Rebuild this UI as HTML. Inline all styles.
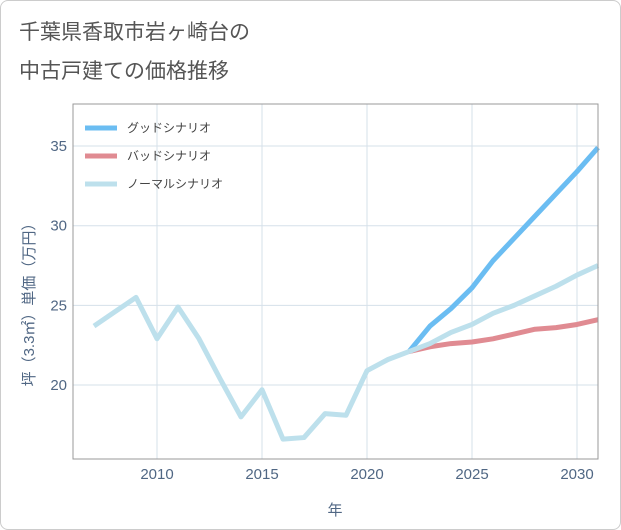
<!DOCTYPE html>
<html><head><meta charset="utf-8"><style>
body{margin:0;background:#fff;font-family:"Liberation Sans","Noto Sans CJK JP",sans-serif}
#wrap{position:relative;width:619px;height:528px;border:1px solid #ccc;border-radius:8px;overflow:hidden}
</style></head><body>
<div id="wrap">
<svg id="c" width="619" height="528" xmlns="http://www.w3.org/2000/svg">
<text x="18" y="38" font-size="21" fill="#555">千葉県香取市岩ヶ崎台の</text>
<text x="18" y="77" font-size="21" fill="#555">中古戸建ての価格推移</text>
<g id="grid"></g><g id="series"></g>
<rect x="72" y="103" width="525" height="355" fill="none" stroke="#999" stroke-width="1"/>
<text x="334" y="514" font-size="15" fill="#506784" text-anchor="middle">年</text>
<text transform="translate(33,300) rotate(-90)" font-size="15" fill="#506784" text-anchor="middle">坪（3.3㎡）単価（万円）</text>
<g>
<line x1="84" y1="127" x2="116" y2="127" stroke="#6bbdf2" stroke-width="5"/>
<text x="126" y="131" font-size="12" fill="#444">グッドシナリオ</text>
<line x1="84" y1="155" x2="116" y2="155" stroke="#e08b92" stroke-width="5"/>
<text x="126" y="159" font-size="12" fill="#444">バッドシナリオ</text>
<line x1="84" y1="183" x2="116" y2="183" stroke="#bde0ec" stroke-width="5"/>
<text x="126" y="187" font-size="12" fill="#444">ノーマルシナリオ</text>
</g>
</svg>
</div>
<script>
const histYears=[2007,2008,2009,2010,2011,2012,2013,2014,2015,2016,2017,2018,2019,2020,2021,2022];
const histValues=[23.7,24.6,25.5,22.9,24.9,22.9,20.4,18.0,19.7,16.6,16.7,18.2,18.1,20.9,21.6,22.1];
const futYears=[2022,2023,2024,2025,2026,2027,2028,2029,2030,2031];
const goodValues=[22.1,23.7,24.8,26.1,27.8,29.2,30.6,32.0,33.4,34.9];
const badValues=[22.1,22.4,22.6,22.7,22.9,23.2,23.5,23.6,23.8,24.1];
const normalValues=[22.1,22.6,23.3,23.8,24.5,25.0,25.6,26.2,26.9,27.5];
const xTicks=[2010,2015,2020,2025,2030];
const yTicks=[20,25,30,35];
const NS="http://www.w3.org/2000/svg";
const X=y=>72+(y-2006)*21;
const Y=v=>384-(v-20)*15.93;
const grid=document.getElementById('grid'),ser=document.getElementById('series');
function mk(t,a,p){const e=document.createElementNS(NS,t);for(const k in a)e.setAttribute(k,a[k]);p.appendChild(e);return e;}
xTicks.forEach(t=>{
const l=mk('line',{x1:X(t),x2:X(t),y1:103,y2:458,stroke:'#d5e0ea'},grid);


const tx=mk('text',{x:X(t),y:478,'font-size':15,fill:'#506784','text-anchor':'middle'},grid);tx.textContent=t;


});
yTicks.forEach(t=>{
const l=mk('line',{x1:72,x2:597,y1:Y(t),y2:Y(t),stroke:'#d5e0ea'},grid);


const tx=mk('text',{x:66,y:Y(t)+5,'font-size':15,fill:'#506784','text-anchor':'end'},grid);tx.textContent=t;


});
function line(xs,vs,col,name){
const p=mk('polyline',{points:xs.map((x,i)=>X(x)+','+Y(vs[i])).join(' '),fill:'none',stroke:col,'stroke-width':5,'stroke-linejoin':'round'},ser);


}
line(futYears,goodValues,'#6bbdf2','good-scenario-line');
line(futYears,badValues,'#e08b92','bad-scenario-line');
line(futYears,normalValues,'#bde0ec','normal-scenario-line');
line(histYears,histValues,'#bde0ec','historical-price-line');
</script>
</body></html>
